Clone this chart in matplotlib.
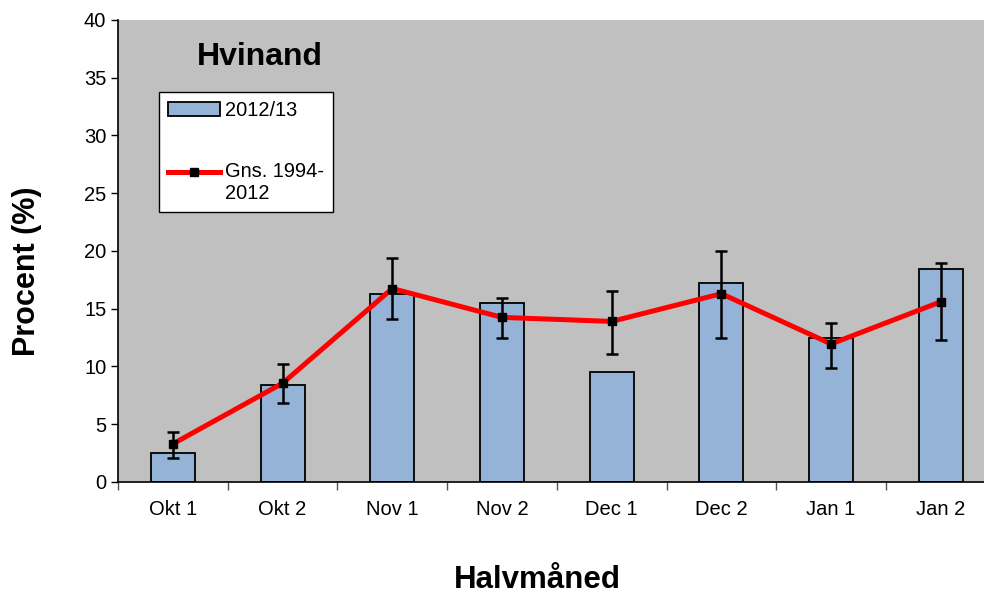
import numpy as np
import matplotlib.pyplot as plt
from matplotlib.legend_handler import HandlerLine2D

categories = ['Okt 1', 'Okt 2', 'Nov 1', 'Nov 2', 'Dec 1', 'Dec 2', 'Jan 1', 'Jan 2']
season = [2.5, 8.4, 16.3, 15.5, 9.55, 17.2, 12.5, 18.4]
mean = [3.3, 8.55, 16.75, 14.25, 13.9, 16.3, 11.95, 15.6]
err_high = [4.35, 10.2, 19.35, 15.95, 16.55, 20.0, 13.8, 18.95]
err_low = [2.1, 6.8, 14.1, 12.5, 11.1, 12.5, 9.9, 12.3]

plt.rcParams['font.family'] = ['Liberation Sans', 'DejaVu Sans']


class TopLineHandler(HandlerLine2D):
    # put the line sample next to the first text line, not the middle
    def create_artists(self, legend, orig_handle, xdescent, ydescent, width, height,
                       fontsize, trans):
        return super().create_artists(legend, orig_handle, xdescent, ydescent - 16,
                                      width, height, fontsize, trans)


def main():
    fig = plt.figure(figsize=(9.84, 5.94), dpi=100)
    ax = fig.add_axes([0.12, 0.1886, 0.8918, 0.7778])
    ax.set_facecolor('#c0c0c0')

    x = np.arange(len(categories))
    bars = ax.bar(x, season, width=0.4, color='#95b3d7', edgecolor='black', linewidth=1.3,
                  label='2012/13', zorder=2)

    line, = ax.plot(x, mean, color='red', linewidth=3.6, marker='s', markersize=5.5,
                    markerfacecolor='black', markeredgecolor='black',
                    label='Gns. 1994-\n2012', zorder=3)
    yerr = [np.array(mean) - np.array(err_low), np.array(err_high) - np.array(mean)]
    ax.errorbar(x, mean, yerr=yerr, fmt='none', ecolor='black', elinewidth=1.8,
                capsize=4, capthick=1.8, zorder=4)

    ax.set_xlim(-0.5, len(categories) - 0.5)
    ax.set_ylim(0, 40)
    ax.set_yticks(range(0, 41, 5))
    ax.set_xticks(x)
    ax.set_xticklabels(categories, fontsize=14.5)
    ax.set_xticks(np.arange(-0.5, len(categories), 1), minor=True)
    ax.tick_params(axis='x', which='major', length=0, pad=13)
    ax.tick_params(axis='x', which='minor', length=6, width=1, color='#555555', direction='out')
    ax.tick_params(axis='y', labelsize=14.5, length=5, width=1, direction='out')

    for side in ['top', 'right']:
        ax.spines[side].set_visible(False)
    ax.spines['left'].set_linewidth(1.2)
    ax.spines['bottom'].set_linewidth(1.2)

    fig.text(0.0274, 0.543, 'Procent (%)', rotation=90, fontsize=22, fontweight='bold',
             ha='center', va='center')
    fig.text(0.546, 0.0236, 'Halvmåned', fontsize=22.5, fontweight='bold',
             ha='center', va='center')
    ax.text(0.09, 0.9206, 'Hvinand', transform=ax.transAxes, fontsize=23,
            fontweight='bold', ha='left', va='center')

    leg = ax.legend([bars, line], ['2012/13', 'Gns. 1994-\n2012'],
                    handler_map={line: TopLineHandler()},
                    loc='upper left', bbox_to_anchor=(0.0467, 0.844), borderaxespad=0,
                    fontsize=14.4, frameon=True, fancybox=False, edgecolor='black',
                    framealpha=1, labelspacing=2.1, handlelength=2.6, borderpad=0.45,
                    handletextpad=0.25)
    leg.get_frame().set_linewidth(1.0)

    fig.savefig('out.png', dpi=100)


if __name__ == '__main__':
    main()
